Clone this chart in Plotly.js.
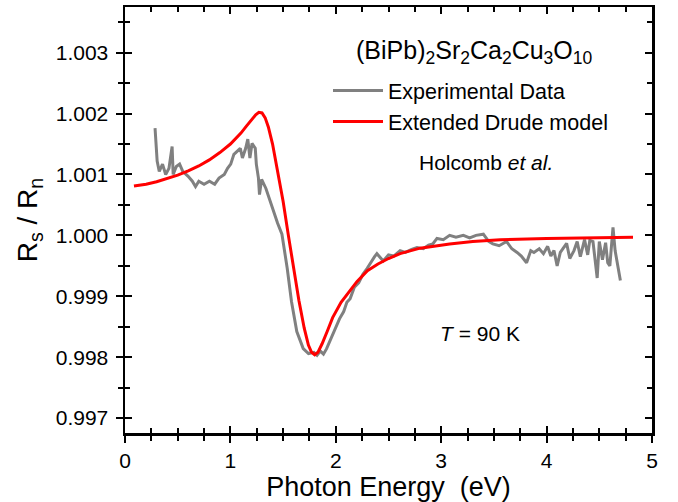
<!DOCTYPE html>
<html>
<head>
<meta charset="utf-8">
<script src="https://cdn.plot.ly/plotly-3.0.1.min.js"></script>
<style>html,body{margin:0;padding:0;background:#fff;}#chart{width:678px;height:502px;}</style>
</head>
<body>
<div id="chart"></div>
<script>
// Experimental data (gray)
const expEnergy = [0.285,0.295,0.305,0.325,0.356,0.386,0.417,0.447,0.457,0.487,0.518,0.548,0.599,0.639,0.669,0.700,0.750,0.801,0.851,0.892,0.942,0.973,1.003,1.033,1.064,1.094,1.114,1.145,1.165,1.185,1.205,1.236,1.246,1.266,1.276,1.286,1.296,1.337,1.367,1.408,1.448,1.489,1.539,1.580,1.630,1.691,1.741,1.792,1.822,1.853,1.883,1.913,1.954,1.994,2.035,2.075,2.105,2.136,2.176,2.217,2.257,2.298,2.338,2.368,2.39,2.45,2.50,2.55,2.61,2.66,2.72,2.77,2.83,2.88,2.92,2.96,3.02,3.08,3.14,3.21,3.27,3.33,3.40,3.45,3.49,3.55,3.62,3.67,3.72,3.76,3.81,3.85,3.88,3.93,3.97,4.01,4.04,4.07,4.10,4.13,4.19,4.22,4.26,4.29,4.32,4.36,4.39,4.41,4.44,4.48,4.50,4.53,4.56,4.58,4.60,4.63,4.65,4.67,4.70];
const expRatio = [1.00176,1.00140,1.00122,1.00105,1.00117,1.00100,1.00110,1.00146,1.00100,1.00113,1.00117,1.00105,1.00097,1.00089,1.00080,1.00089,1.00084,1.00089,1.00084,1.00094,1.00100,1.00110,1.00117,1.00133,1.00138,1.00143,1.00127,1.00143,1.00158,1.00127,1.00151,1.00143,1.00117,1.00094,1.00067,1.00084,1.00092,1.00077,1.00061,1.00040,1.00020,1.00002,0.99946,0.99891,0.99842,0.99814,0.99806,0.99808,0.99803,0.99810,0.99805,0.99814,0.99830,0.99848,0.99863,0.99875,0.99890,0.99896,0.99915,0.99922,0.99936,0.99946,0.99958,0.99965,0.99970,0.99958,0.99968,0.99966,0.99975,0.99972,0.99977,0.99980,0.99978,0.99984,0.99986,0.99995,0.99993,1.00000,0.99997,1.00000,0.99996,1.00000,1.00002,0.99990,0.99986,0.99983,0.99990,0.99978,0.99972,0.99966,0.99955,0.99975,0.99972,0.99978,0.99970,0.99982,0.99966,0.99975,0.99950,0.99972,0.99987,0.99962,0.99975,0.99990,0.99965,0.99993,0.99968,0.99992,0.99990,0.99930,0.99990,0.99960,0.99988,0.99955,0.99950,1.00013,0.99975,0.99955,0.99926];

// Extended Drude model (red)
const modelEnergy = [0.085,0.2,0.3,0.4,0.5,0.6,0.7,0.8,0.9,1.0,1.05,1.1,1.15,1.2,1.24,1.27,1.30,1.33,1.36,1.40,1.45,1.50,1.55,1.60,1.65,1.70,1.74,1.77,1.80,1.83,1.87,1.92,1.97,2.05,2.13,2.2,2.3,2.4,2.5,2.61,2.8,3.08,3.3,3.56,4.0,4.4,4.82];
const modelRatio = [1.00081,1.00084,1.00088,1.00093,1.00099,1.00106,1.00114,1.00124,1.00136,1.00150,1.00159,1.00168,1.00179,1.00190,1.00198,1.00202,1.00201,1.00193,1.00178,1.00150,1.00105,1.00056,1.00000,0.99945,0.99893,0.99848,0.99820,0.99808,0.99804,0.99808,0.99822,0.99843,0.99865,0.99890,0.99909,0.99924,0.99942,0.99953,0.99962,0.99970,0.99979,0.99986,0.99990,0.99993,0.99995,0.99996,0.99997];

const seriesNames = ["Experimental Data", "Extended Drude model"];
const xTickVals = [0,1,2,3,4,5];
const yTickVals = [0.997,0.998,0.999,1.000,1.001,1.002,1.003];
const yTickText = ["0.997","0.998","0.999","1.000","1.001","1.002","1.003"];

const FONT = "Liberation Sans, Arial, sans-serif";
const xRange = [0, 5];
const yRange = [0.996755, 1.003750];

const traces = [
  {x: expEnergy, y: expRatio, type: "scatter", mode: "lines", name: seriesNames[0],
   line: {color: "#808080", width: 3}, xaxis: "x", yaxis: "y"},
  {x: modelEnergy, y: modelRatio, type: "scatter", mode: "lines", name: seriesNames[1],
   line: {color: "#ff0000", width: 3}, xaxis: "x2", yaxis: "y2"}
];

const axisCommon = {showgrid: false, zeroline: false, showline: true, linecolor: "#000", linewidth: 2.5, tickcolor: "#000", tickwidth: 2};
const L = 125, R = 26, T = 7, B = 69, W = 678, H = 502;
const pw = W - L - R, ph = H - T - B;
const px = v => (v - L) / pw;
const py = v => (H - B - v) / ph;

const layout = {
  width: W, height: H,
  margin: {l: L, r: R, t: T, b: B},
  paper_bgcolor: "#fff", plot_bgcolor: "#fff",
  font: {family: FONT, color: "#000"},
  showlegend: true,
  legend: {x: px(328), y: py(70), xanchor: "left", yanchor: "top", bgcolor: "rgba(0,0,0,0)",
           font: {family: FONT, size: 21.5, color: "#000"}, tracegroupgap: 0, itemwidth: 50},
  xaxis: Object.assign({}, axisCommon, {range: xRange, tickvals: xTickVals, ticks: "outside", ticklen: 7,
    mirror: false, tickfont: {family: FONT, size: 21},
    minor: {dtick: 0.25, ticks: "outside", ticklen: 5, tickwidth: 2, tickcolor: "#000"},
    title: {text: "Photon Energy  (eV)", font: {family: FONT, size: 27}, standoff: 4}}),
  yaxis: Object.assign({}, axisCommon, {range: yRange, tickvals: yTickVals, ticktext: yTickText, ticks: "outside", ticklen: 7,
    mirror: false, tickfont: {family: FONT, size: 21}, ticklabelstandoff: 3,
    minor: {dtick: 0.0005, tick0: 0.997, ticks: "outside", ticklen: 5, tickwidth: 2, tickcolor: "#000"},
    title: {text: "R<sub>s</sub> / R<sub>n</sub>", font: {family: FONT, size: 28}, standoff: 10}}),
  xaxis2: Object.assign({}, axisCommon, {range: xRange, tickvals: xTickVals, ticks: "inside", ticklen: 7,
    overlaying: "x", anchor: "y2", side: "bottom", mirror: "ticks", showticklabels: false,
    minor: {dtick: 0.25, ticks: "inside", ticklen: 5, tickwidth: 2, tickcolor: "#000"}}),
  yaxis2: Object.assign({}, axisCommon, {range: yRange, tickvals: yTickVals, ticks: "inside", ticklen: 7,
    overlaying: "y", anchor: "x2", side: "left", mirror: "ticks", showticklabels: false,
    minor: {dtick: 0.0005, tick0: 0.997, ticks: "inside", ticklen: 5, tickwidth: 2, tickcolor: "#000"}}),
  annotations: [
    {xref: "paper", yref: "paper", x: px(474), y: py(52), xanchor: "center", yanchor: "middle", showarrow: false,
     text: "(BiPb)<sub>2</sub>Sr<sub>2</sub>Ca<sub>2</sub>Cu<sub>3</sub>O<sub>10</sub>", font: {family: FONT, size: 25}},
    {xref: "paper", yref: "paper", x: px(486), y: py(162), xanchor: "center", yanchor: "middle", showarrow: false,
     text: "Holcomb <i>et al.</i>", font: {family: FONT, size: 21}},
    {xref: "paper", yref: "paper", x: px(480), y: py(333), xanchor: "center", yanchor: "middle", showarrow: false,
     text: "<i>T</i> = 90 K", font: {family: FONT, size: 21}}
  ]
};

Plotly.newPlot("chart", traces, layout, {displayModeBar: false, staticPlot: true});
</script>
</body>
</html>
